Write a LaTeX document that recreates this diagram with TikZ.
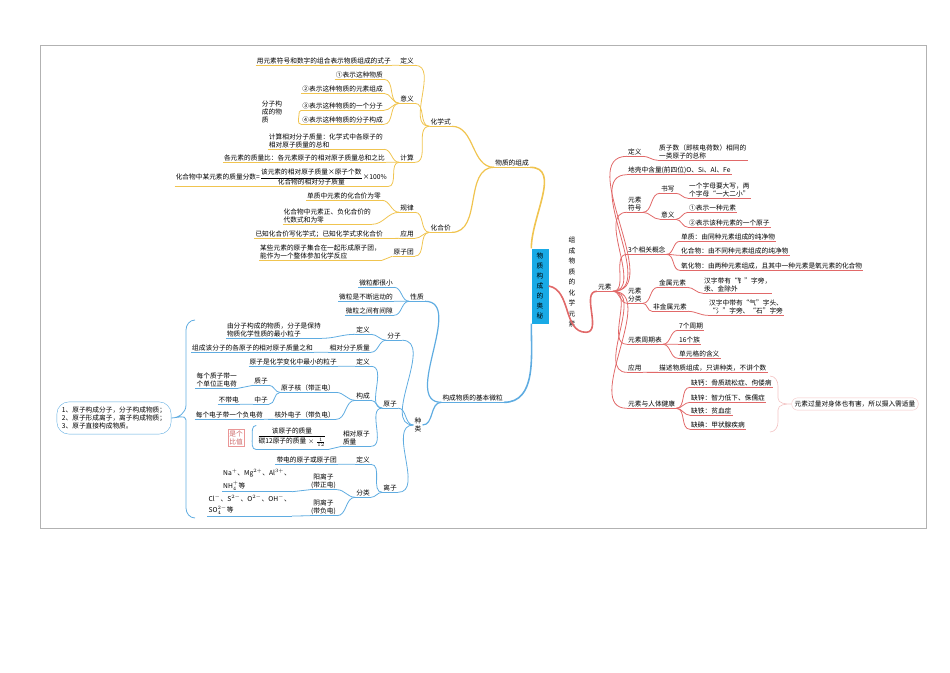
\documentclass[tikz,border=0pt]{standalone}
\usepackage{fontspec}
\setmainfont{Noto Sans CJK SC}
\usetikzlibrary{calc}
\definecolor{Y}{RGB}{240,196,80}
\definecolor{B}{RGB}{95,172,225}
\definecolor{R}{RGB}{225,105,105}
\definecolor{BX}{RGB}{25,170,230}
\begin{document}
\begin{tikzpicture}[x=1pt,y=-1pt,
  every node/.style={font=\fontsize{6.7}{8}\selectfont,inner sep=1pt,align=left},
  u/.style={append after command={(\tikzlastnode.south west) edge[draw=#1,line width=0.8pt] (\tikzlastnode.south east)}},
  lY/.style={draw=Y,line width=0.8pt},
  lB/.style={draw=B,line width=0.8pt},
  lR/.style={draw=R,line width=0.8pt}]
\useasboundingbox (0,0) rectangle (950,672);
\draw[gray!60,line width=0.6pt] (40,45) rectangle (926,528);
% center
\node[fill=BX,minimum width=17pt,minimum height=75pt,align=center,inner sep=1pt,font=\fontsize{6.7}{10}\selectfont] (cb) at (540,286) {物\\质\\构\\成\\的\\奥\\秘};
% ===== yellow =====
\node[anchor=east,u=Y] (zc) at (530,163) {物质的组成};
\draw[Y,line width=1.6pt] (zc.south east) to[out=0,in=90] (cb.north west);
\node[anchor=east,u=Y] (hx) at (452,122) {化学式};
\node[anchor=east,u=Y] (hh) at (452,228) {化合价};
\draw[lY,line width=1.2pt] (zc.south west) to[out=180,in=0] (hx.south east);
\draw[lY,line width=1.2pt] (zc.south west) to[out=180,in=0] (hh.south east);
\node[anchor=east,u=Y] (dy) at (415,61) {定义};
\node[anchor=east,u=Y] (yy) at (415,99) {意义};
\node[anchor=east,u=Y] (js) at (415,158) {计算};
\foreach \n in {dy,yy,js} \draw[lY] (hx.south west) to[out=180,in=0] (\n.south east);
\node[anchor=east,u=Y] (dy1) at (392,61) {用元素符号和数字的组合表示物质组成的式子};
\draw[lY] (dy.south west) -- (dy1.south east);
\node[anchor=east,u=Y] (y1) at (384,75) {①表示这种物质};
\node[anchor=east,u=Y] (y2) at (384,89) {②表示这种物质的元素组成};
\node[anchor=east,u=Y] (y3) at (384,106) {③表示这种物质的一个分子};
\node[anchor=east,u=Y] (y4) at (384,120) {④表示这种物质的分子构成};
\foreach \n in {y1,y2,y3,y4} \draw[lY] (yy.south west) to[out=180,in=0] (\n.south east);
\node (fz) at (272,112) {分子构\\成的物\\质};
\coordinate (fzr) at ($(fz.east)+(16,0)$);
\draw[lY] (y3.south west) to[out=180,in=90] (fzr) to[out=-90,in=180] (y4.south west);
\node[anchor=east,u=Y] (j1) at (384,141) {计算相对分子质量：化学式中各原子的\\相对原子质量的总和};
\node[anchor=east,u=Y] (j2) at (386,158) {各元素的质量比：各元素原子的相对原子质量总和之比};
\node[anchor=east,u=Y] (j3) at (388,177) {化合物中某元素的质量分数=$\displaystyle\frac{\mbox{该元素的相对原子质量×原子个数}}{\mbox{化合物的相对分子质量}}$×100\%};
\foreach \n in {j1,j2,j3} \draw[lY] (js.south west) to[out=180,in=0] (\n.south east);
\node[anchor=east,u=Y] (gl) at (415,208) {规律};
\node[anchor=east,u=Y] (yyy) at (415,234) {应用};
\node[anchor=east,u=Y] (ytz) at (415,252) {原子团};
\foreach \n in {gl,yyy,ytz} \draw[lY] (hh.south west) to[out=180,in=0] (\n.south east);
\node[anchor=east,u=Y] (g1) at (382,196) {单质中元素的化合价为零};
\node[anchor=east,u=Y] (g2) at (372,216) {化合物中元素正、负化合价的\\代数式和为零};
\foreach \n in {g1,g2} \draw[lY] (gl.south west) to[out=180,in=0] (\n.south east);
\node[anchor=east,u=Y] (yy1) at (384,234) {已知化合价写化学式；已知化学式求化合价};
\draw[lY] (yyy.south west) -- (yy1.south east);
\node[anchor=east,u=Y] (yt1) at (382,252) {某些元素的原子集合在一起形成原子团，\\能作为一个整体参加化学反应};
\draw[lY] (ytz.south west) -- (yt1.south east);
% ===== blue =====
\node[anchor=east,u=B] (gb) at (504,398) {构成物质的基本微粒};
\draw[B,line width=1.6pt] (cb.south west) to[out=-90,in=0] (gb.south east);
\node[anchor=east,u=B] (xz) at (425,297) {性质};
\node[align=center] (zl) at (418,425) {种\\类};
\draw[lB,line width=1.2pt] (gb.south west) to[out=180,in=0] (xz.south east);
\draw[lB,line width=1.2pt] (gb.south west) to[out=180,in=0] (zl.east);
\node[anchor=east,u=B] (x1) at (394,283) {微粒都很小};
\node[anchor=east,u=B] (x2) at (394,297) {微粒是不断运动的};
\node[anchor=east,u=B] (x3) at (394,311) {微粒之间有间隙};
\foreach \n in {x1,x2,x3} \draw[lB] (xz.south west) to[out=180,in=0] (\n.south east);
\node[anchor=east,u=B] (fzz) at (402,336) {分子};
\node[anchor=east,u=B] (yz) at (398,404) {原子};
\node[anchor=east,u=B] (lz) at (398,488) {离子};
\foreach \n in {fzz,yz,lz} \draw[lB] (zl.west) to[out=180,in=0] (\n.south east);
\node[anchor=east,u=B] (fd) at (371,330) {定义};
\node[anchor=east,u=B] (fx) at (371,348) {相对分子质量};
\foreach \n in {fd,fx} \draw[lB] (fzz.south west) to[out=180,in=0] (\n.south east);
\node[anchor=east,u=B] (fd1) at (322,330) {由分子构成的物质，分子是保持\\物质化学性质的最小粒子};
\draw[lB] (fd.south west) to[out=180,in=0] (fd1.south east);
\node[anchor=east,u=B] (fx1) at (314,348) {组成该分子的各原子的相对原子质量之和};
\draw[lB] (fx.south west) -- (fx1.south east);
\node[anchor=east,u=B] (yd) at (371,362) {定义};
\node[anchor=east,u=B] (ygc) at (371,396) {构成};
\node[anchor=east,u=B] (yxd) at (371,438) {相对原子\\质量};
\foreach \n in {yd,ygc,yxd} \draw[lB] (yz.south west) to[out=180,in=0] (\n.south east);
\node[anchor=east,u=B] (yd1) at (338,362) {原子是化学变化中最小的粒子};
\draw[lB] (yd.south west) -- (yd1.south east);
\node[anchor=east,u=B] (yhe) at (336,388) {原子核（带正电）};
\node[anchor=east,u=B] (hwd) at (336,415) {核外电子（带负电）};
\foreach \n in {yhe,hwd} \draw[lB] (ygc.south west) to[out=180,in=0] (\n.south east);
\node[anchor=east,u=B] (zz) at (269,381) {质子};
\node[anchor=east,u=B] (zhz) at (269,400) {中子};
\foreach \n in {zz,zhz} \draw[lB] (yhe.south west) to[out=180,in=0] (\n.south east);
\node[anchor=east,u=B] (zz1) at (238,380) {每个质子带一\\个单位正电荷};
\draw[lB] (zz.south west) -- (zz1.south east);
\node[anchor=east,u=B] (zhz1) at (240,400) {不带电};
\draw[lB] (zhz.south west) -- (zhz1.south east);
\node[anchor=east,u=B] (hwd1) at (264,415) {每个电子带一个负电荷};
\draw[lB] (hwd.south west) -- (hwd1.south east);
\node (yfr) at (292,437) {$\displaystyle\frac{\mbox{该原子的质量}}{\mbox{碳12原子的质量}\times\frac{1}{12}}$};
\coordinate (yfl) at ($(yfr.west)+(-4,0)$);
\draw[lB] (yxd.south west) -- ($(yfr.south east)+(0,2)$) -- ($(yfr.south west)+(0,2)$) to[out=180,in=-90] (yfl) to[out=90,in=180] ($(yfr.north west)+(0,-1)$);
\node[draw=R!70,text=R!90!black,align=center,inner sep=1.5pt] (bz) at (236,438) {是个\\比值};
\node[anchor=east,u=B] (ld) at (371,460) {定义};
\node[anchor=east,u=B] (lf) at (371,493) {分类};
\foreach \n in {ld,lf} \draw[lB] (lz.south west) to[out=180,in=0] (\n.south east);
\node[anchor=east,u=B] (ld1) at (338,460) {带电的原子或原子团};
\draw[lB] (ld.south west) -- (ld1.south east);
\node[anchor=east,u=B,align=center] (yang) at (337,481) {阳离子\\(带正电)};
\node[anchor=east,u=B,align=center] (yin) at (337,507) {阴离子\\(带负电)};
\foreach \n in {yang,yin} \draw[lB] (lf.south west) to[out=180,in=0] (\n.south east);
\node[anchor=east,u=B] (yang1) at (292,480) {Na$^{+}$、Mg$^{2+}$、Al$^{3+}$、\\[3pt]NH$_4^{+}$等};
\draw[lB] (yang.south west) -- (yang1.south east);
\node[anchor=east,u=B] (yin1) at (292,505) {Cl$^{-}$、S$^{2-}$、O$^{2-}$、OH$^{-}$、\\[3pt]SO$_4^{2-}$等};
\draw[lB] (yin.south west) -- (yin1.south east);
\node[draw=B,rounded corners=12pt,inner sep=5pt] (sum) at (114,418) {1、原子构成分子，分子构成物质；\\2、原子形成离子，离子构成物质；\\3、原子直接构成物质。};
\coordinate (bt) at (195,320);
\coordinate (bb) at (195,518);
\draw[lB] (bt) to[out=180,in=90] (186,330) -- (186,405) to[out=-90,in=0] (sum.east) to[out=0,in=90] (186,420) -- (186,508) to[out=-90,in=180] (bb);
% ===== red =====
\node[align=center,font=\fontsize{6.7}{10.5}\selectfont] (ys) at (572,282) {组\\成\\物\\质\\的\\化\\学\\元\\素};
\node[anchor=west,u=R] (yuan) at (597,287) {元素};
\draw[R,line width=1.6pt] (cb.east) to[out=-10,in=180] ($(ys.south)+(14,4)$) to[out=0,in=180] (yuan.south west);
\newcommand\rk[1]{\draw[lR] (yuan.south east) to[out=0,in=180] (#1.south west);}
\node[anchor=west,u=R] (rd) at (627,152) {定义};
\node[anchor=west,u=R] (rdq) at (627,170) {地壳中含量(前四位)O、Si、Al、Fe};
\node[anchor=west,u=R] (rfh) at (627,204) {元素\\符号};
\node[anchor=west,u=R] (r3) at (627,250) {3个相关概念};
\node[anchor=west,u=R] (rfl) at (627,295) {元素\\分类};
\node[anchor=west,u=R] (rzq) at (627,340) {元素周期表};
\node[anchor=west,u=R] (ryy) at (627,368) {应用};
\node[anchor=west,u=R] (rjk) at (627,404) {元素与人体健康};
\foreach \n in {rd,rdq,rfh,r3,rfl,rzq,ryy,rjk} {\rk{\n}}
\node[anchor=west,u=R] (rd1) at (658,152) {质子数（即核电荷数）相同的\\一类原子的总称};
\draw[lR] (rd.south east) to[out=0,in=180] (rd1.south west);
\node[anchor=west,u=R] (sx) at (660,189) {书写};
\node[anchor=west,u=R] (yyr) at (660,215) {意义};
\foreach \n in {sx,yyr} \draw[lR] (rfh.south east) to[out=0,in=180] (\n.south west);
\node[anchor=west,u=R] (sx1) at (688,190) {一个字母要大写，两\\个字母“一大二小”};
\draw[lR] (sx.south east) to[out=0,in=180] (sx1.south west);
\node[anchor=west,u=R] (yr1) at (688,208) {①表示一种元素};
\node[anchor=west,u=R] (yr2) at (688,223) {②表示该种元素的一个原子};
\foreach \n in {yr1,yr2} \draw[lR] (yyr.south east) to[out=0,in=180] (\n.south west);
\node[anchor=west,u=R] (c1) at (680,237) {单质：由同种元素组成的纯净物};
\node[anchor=west,u=R] (c2) at (680,251) {化合物：由不同种元素组成的纯净物};
\node[anchor=west,u=R] (c3) at (680,266) {氧化物：由两种元素组成，且其中一种元素是氧元素的化合物};
\foreach \n in {c1,c2,c3} \draw[lR] (r3.south east) to[out=0,in=180] (\n.south west);
\node[anchor=west,u=R] (js1) at (658,283) {金属元素};
\node[anchor=west,u=R] (fjs) at (652,307) {非金属元素};
\foreach \n in {js1,fjs} \draw[lR] (rfl.south east) to[out=0,in=180] (\n.south west);
\node[anchor=west,u=R] (js2) at (703,285) {汉字带有“钅”字旁，\\汞、金除外};
\draw[lR] (js1.south east) to[out=0,in=180] (js2.south west);
\node[anchor=west,u=R] (fjs2) at (708,307) {汉字中带有“气”字头、\\“氵”字旁、“石”字旁};
\draw[lR] (fjs.south east) to[out=0,in=180] (fjs2.south west);
\node[anchor=west,u=R] (q1) at (678,326) {7个周期};
\node[anchor=west,u=R] (q2) at (678,340) {16个族};
\node[anchor=west,u=R] (q3) at (678,354) {单元格的含义};
\foreach \n in {q1,q2,q3} \draw[lR] (rzq.south east) to[out=0,in=180] (\n.south west);
\node[anchor=west,u=R] (ry1) at (658,368) {描述物质组成，只讲种类，不讲个数};
\draw[lR] (ryy.south east) -- (ry1.south west);
\node[anchor=west,u=R] (h1) at (690,383) {缺钙：骨质疏松症、佝偻病};
\node[anchor=west,u=R] (h2) at (690,398) {缺锌：智力低下、侏儒症};
\node[anchor=west,u=R] (h3) at (690,411) {缺铁：贫血症};
\node[anchor=west,u=R] (h4) at (690,425) {缺碘：甲状腺疾病};
\foreach \n in {h1,h2,h3,h4} \draw[lR] (rjk.south east) to[out=0,in=180] (\n.south west);
\node[draw=R!40,rounded corners=6pt,inner sep=3pt] (gl2) at (855,404) {元素过量对身体也有害，所以摄入需适量};
\draw[draw=R!40,line width=0.6pt] (770,376) to[out=0,in=90] (778,386) -- (778,398) to[out=-90,in=180] (gl2.west) to[out=180,in=90] (778,410) -- (778,422) to[out=-90,in=0] (770,432);
\end{tikzpicture}
\end{document}
